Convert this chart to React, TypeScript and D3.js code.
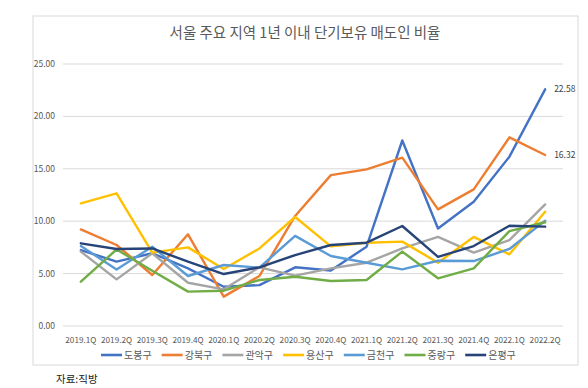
import React from 'react';
import * as d3 from 'd3';

const quarters = ['2019.1Q', '2019.2Q', '2019.3Q', '2019.4Q', '2020.1Q', '2020.2Q', '2020.3Q', '2020.4Q', '2021.1Q', '2021.2Q', '2021.3Q', '2021.4Q', '2022.1Q', '2022.2Q'];
const yTicks = [0, 5, 10, 15, 20, 25];

const dobong = [7.25, 6.14, 6.94, 5.5, 3.75, 3.9, 5.6, 5.3, 7.57, 17.7, 9.3, 11.86, 16.16, 22.58];
const gangbuk = [9.22, 7.73, 4.87, 8.75, 2.8, 4.77, 10.5, 14.4, 14.95, 16.06, 11.13, 13.04, 18.0, 16.32];
const gwanak = [7.1, 4.45, 6.94, 4.13, 3.5, 5.6, 4.8, 5.5, 6.04, 7.4, 8.5, 7.0, 8.2, 11.6];
const yongsan = [11.7, 12.66, 7.0, 7.5, 5.44, 7.4, 10.4, 7.6, 7.95, 8.05, 6.04, 8.5, 6.84, 10.9];
const geumcheon = [7.63, 5.4, 7.57, 4.77, 5.82, 5.57, 8.6, 6.68, 6.04, 5.4, 6.23, 6.2, 7.35, 10.05];
const jungnang = [4.23, 7.3, 5.28, 3.28, 3.37, 4.39, 4.7, 4.3, 4.39, 7.1, 4.55, 5.5, 9.06, 9.9];
const eunpyeong = [7.89, 7.35, 7.4, 6.14, 4.96, 5.6, 6.77, 7.73, 7.95, 9.54, 6.6, 7.63, 9.57, 9.48];

const seriesNames = ['도봉구', '강북구', '관악구', '용산구', '금천구', '중랑구', '은평구'];
const seriesValues = [dobong, gangbuk, gwanak, yongsan, geumcheon, jungnang, eunpyeong];
const colors = ['#4472C4', '#ED7D31', '#A5A5A5', '#FFC000', '#5B9BD5', '#70AD47', '#264478'];
const labelled = [0, 1]; // series with end labels

const FONT = '"Noto Sans CJK KR", "Noto Sans", sans-serif';

export default function App() {
  const width = 588;
  const height = 388;

  const x = d3.scalePoint<string>().domain(quarters).range([63, 563]).padding(0.5);
  const y = d3.scaleLinear().domain([0, 25]).range([326, 64]);

  const line = d3.line<number>()
    .x((_, i) => x(quarters[i]) as number)
    .y(d => y(d));

  // draw order: as in the picture, later series on top
  const order = [6, 5, 4, 3, 2, 1, 0].reverse();

  return (
    <svg width={width} height={height} style={{ position: 'absolute', left: 0, top: 0, background: '#fff' }} fontFamily={FONT}>
      <rect x={33} y={16} width={545} height={349} fill="#fff" stroke="#d9d9d9" strokeWidth={1} />

      <text x={305} y={38} textAnchor="middle" fontSize={14.5} fill="#595959">서울 주요 지역 1년 이내 단기보유 매도인 비율</text>

      {yTicks.map(t => (
        <g key={t}>
          <line x1={63} x2={563} y1={y(t)} y2={y(t)} stroke="#d9d9d9" strokeWidth={1} />
          <text x={55} y={y(t) + 3} textAnchor="end" fontSize={8.5} fill="#595959">{t.toFixed(2)}</text>
        </g>
      ))}

      {quarters.map(q => (
        <text key={q} x={x(q)} y={343} textAnchor="middle" fontSize={8.2} fill="#595959">{q}</text>
      ))}

      {order.map(i => (
        <path key={seriesNames[i]} d={line(seriesValues[i]) || ''} fill="none" stroke={colors[i]} strokeWidth={2.4} strokeLinejoin="round" strokeLinecap="round" />
      ))}

      {labelled.map(i => {
        const vals = seriesValues[i];
        const last = vals[vals.length - 1];
        return (
          <text key={i} x={(x(quarters[quarters.length - 1]) as number) + 9} y={y(last) + 3} fontSize={8.5} fill="#404040">{last.toFixed(2)}</text>
        );
      })}

      {seriesNames.map((name, i) => {
        const lx = 101 + i * 60.7;
        return (
          <g key={name}>
            <line x1={lx} x2={lx + 21} y1={355} y2={355} stroke={colors[i]} strokeWidth={2.6} />
            <text x={lx + 23} y={359} fontSize={10} fill="#595959">{name}</text>
          </g>
        );
      })}

      <text x={56} y={383} fontSize={10.5} fill="#222">자료:직방</text>
    </svg>
  );
}
